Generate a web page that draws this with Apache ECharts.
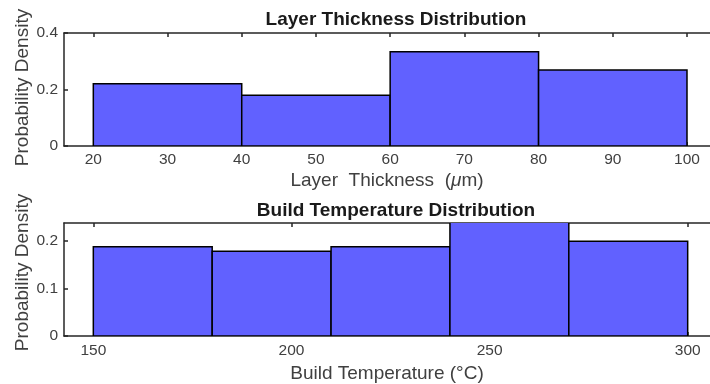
<!DOCTYPE html>
<html><head><meta charset="utf-8">
<script src="https://cdn.jsdelivr.net/npm/echarts@6/dist/echarts.min.js"></script>
<style>html,body{margin:0;padding:0;background:#fff}#c{width:710px;height:384px}</style>
</head><body><div id="c"></div>
<script>
// Layer thickness histogram
const thickEdges = [20, 40, 60, 80, 100];
const thickDensity = [0.22, 0.18, 0.334, 0.269];
const thickTicks = [20, 30, 40, 50, 60, 70, 80, 90, 100];
const thickYTicks = [0, 0.2, 0.4];
// Build temperature histogram
const tempEdges = [150, 180, 210, 240, 270, 300];
const tempDensity = [0.187, 0.1775, 0.187, 0.249, 0.1985];
const tempTicks = [150, 200, 250, 300];
const tempYTicks = [0, 0.1, 0.2];

const FONT = '"Liberation Sans", Arial, sans-serif';
const AX = '#262626', LBL = '#404040';
const FILL = '#6161ff';
const TICKFS = 15.5, NAMEFS = 19;

function binData(edges, vals) {
  return vals.map((v, i) => [edges[i], edges[i + 1], v]);
}
function renderBin(params, api) {
  const p0 = api.coord([api.value(0), 0]);
  const p1 = api.coord([api.value(1), api.value(2)]);
  return {
    type: 'rect',
    shape: { x: p0[0], y: p1[1], width: p1[0] - p0[0], height: p0[1] - p1[1] },
    style: { fill: FILL, stroke: '#000', lineWidth: 1.5 }
  };
}
function fmt(v) { return v === 0 ? '0' : String(v); }

function xAxes(gridIndex, min, max, ticks, name, nameGap, margin) {
  return [{
    type: 'value', gridIndex, min, max, position: 'bottom',
    axisLine: { show: true, lineStyle: { color: AX, width: 1.5 } },
    axisTick: { show: true, inside: true, length: 4, customValues: ticks, lineStyle: { color: AX, width: 1.5 } },
    axisLabel: { customValues: ticks, color: LBL, fontFamily: FONT, fontSize: TICKFS, margin },
    splitLine: { show: false },
    name, nameLocation: 'middle', nameGap, nameMoveOverlap: false,
    nameTextStyle: { color: LBL, fontFamily: FONT, fontSize: NAMEFS,
      rich: { it: { fontStyle: 'italic', color: LBL, fontFamily: FONT, fontSize: NAMEFS } } }
  }, {
    type: 'value', gridIndex, min, max, position: 'top',
    axisLine: { show: true, lineStyle: { color: AX, width: 1.5 } },
    axisTick: { show: true, inside: true, length: 4, customValues: ticks, lineStyle: { color: AX, width: 1.5 } },
    axisLabel: { show: false }, splitLine: { show: false }
  }];
}
function yAxis(gridIndex, min, max, ticks, namePad) {
  return {
    type: 'value', gridIndex, min, max,
    axisLine: { show: true, lineStyle: { color: AX, width: 1.5 } },
    axisTick: { show: true, inside: true, length: 4, customValues: ticks, lineStyle: { color: AX, width: 1.5 } },
    axisLabel: { customValues: ticks, color: LBL, fontFamily: FONT, fontSize: TICKFS, margin: 6, formatter: fmt },
    splitLine: { show: false },
    name: 'Probability Density', nameLocation: 'middle', nameGap: 32, nameMoveOverlap: false,
    nameTextStyle: { color: LBL, fontFamily: FONT, fontSize: NAMEFS, padding: [0, 0, 0, namePad] }
  };
}

const chart = echarts.init(document.getElementById('c'), null, { renderer: 'canvas' });
chart.setOption({
  animation: false,
  backgroundColor: '#fff',
  title: [
    { text: 'Layer Thickness Distribution', left: 391, top: 5, textAlign: 'center',
      textStyle: { fontFamily: FONT, fontSize: 19, fontWeight: 'bold', color: '#1a1a1a' } },
    { text: 'Build Temperature Distribution', left: 391, top: 196, textAlign: 'center',
      textStyle: { fontFamily: FONT, fontSize: 19, fontWeight: 'bold', color: '#1a1a1a' } }
  ],
  grid: [
    { left: 64, top: 33, width: 646, height: 113, outerBoundsMode: 'none', containLabel: false },
    { left: 64, top: 223, width: 646, height: 113, outerBoundsMode: 'none', containLabel: false }
  ],
  xAxis: [
    ...xAxes(0, 16.05, 103.1, thickTicks, 'Layer  Thickness  ({it|μ}m)', 25, 6),
    ...xAxes(1, 142.6, 305.63, tempTicks, 'Build Temperature (°C)', 28, 7)
  ],
  yAxis: [yAxis(0, 0, 0.4, thickYTicks, 4), yAxis(1, 0, 0.237, tempYTicks, 14)],
  series: [
    { type: 'custom', xAxisIndex: 0, yAxisIndex: 0, clip: true,
      data: binData(thickEdges, thickDensity), renderItem: renderBin },
    { type: 'custom', xAxisIndex: 2, yAxisIndex: 1, clip: true,
      data: binData(tempEdges, tempDensity), renderItem: renderBin }
  ]
});
</script></body></html>
